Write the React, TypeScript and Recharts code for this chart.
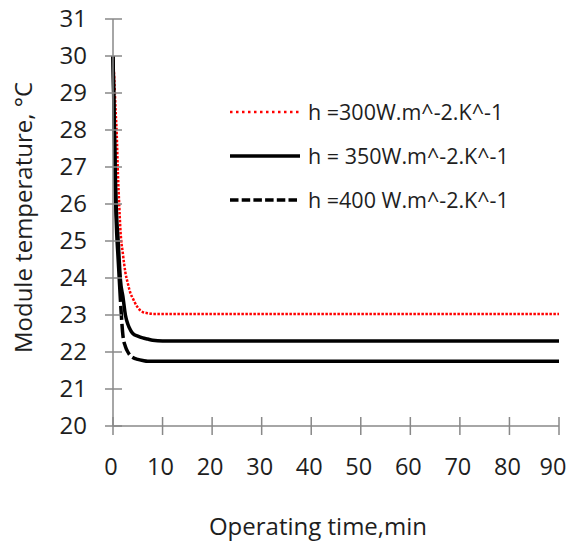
import React from 'react';
import { LineChart, Line, XAxis, YAxis, Legend, Label } from 'recharts';

// operating time (min) and module temperature (°C) for each heat transfer coefficient
const timeMin = [0, 0.25, 0.5, 0.75, 1, 1.25, 1.5, 2, 2.5, 3, 3.5, 4, 5, 6, 7, 8, 10, 20, 30, 40, 50, 60, 70, 80, 90];
const h300 = [30, 29.4, 28.6, 27.9, 26.8, 26.0, 25.3, 24.65, 24.15, 23.85, 23.6, 23.45, 23.2, 23.08, 23.05, 23.03, 23.03, 23.03, 23.03, 23.03, 23.03, 23.03, 23.03, 23.03, 23.03];
const h350 = [30, 28.3, 26.6, 25.6, 25.1, 24.5, 23.95, 23.5, 23.0, 22.75, 22.6, 22.5, 22.43, 22.38, 22.35, 22.32, 22.3, 22.3, 22.3, 22.3, 22.3, 22.3, 22.3, 22.3, 22.3];
const h400 = [30, 28.0, 26.2, 25.2, 24.6, 24.0, 23.4, 22.45, 22.15, 22.0, 21.9, 21.85, 21.8, 21.77, 21.75, 21.75, 21.75, 21.75, 21.75, 21.75, 21.75, 21.75, 21.75, 21.75, 21.75];

const xTicks = [0, 10, 20, 30, 40, 50, 60, 70, 80, 90];
const yTicks = [20, 21, 22, 23, 24, 25, 26, 27, 28, 29, 30, 31];

const seriesLabels = ['h =300W.m^-2.K^-1', 'h = 350W.m^-2.K^-1', 'h =400 W.m^-2.K^-1'];

const data = timeMin.map((t, i) => ({ t, h300: h300[i], h350: h350[i], h400: h400[i] }));

const font = '"Open Sans", sans-serif';
const axisGrey = '#888';
const textColor = '#1e1e1e';
const W = 567;
const H = 542;

const XTick = (props: any) => {
  const { x, y, payload } = props;
  // keep the last label inside the drawing area
  const tx = Math.min(x - 2, W - 14);
  return (
    <g>
      <line x1={x} x2={x} y1={y - 9} y2={y + 9} stroke={axisGrey} strokeWidth={1.5} />
      <text x={tx} y={y + 41} dy="0.35em" textAnchor="middle" fontSize={23.5} fontFamily={font} fill={textColor}>
        {payload.value}
      </text>
    </g>
  );
};

const YTick = (props: any) => {
  const { x, y, payload } = props;
  return (
    <g>
      <line x1={x - 8} x2={x + 9} y1={y} y2={y} stroke={axisGrey} strokeWidth={1.5} />
      <text x={x - 26} y={y} dy="0.35em" textAnchor="end" fontSize={24} fontFamily={font} fill={textColor}>
        {payload.value}
      </text>
    </g>
  );
};

const legendRows = [
  { label: seriesLabels[0], stroke: '#ff0000', width: 2.5, dash: '2.5 3.5' },
  { label: seriesLabels[1], stroke: '#000', width: 3.5, dash: undefined },
  { label: seriesLabels[2], stroke: '#000', width: 3.5, dash: '8.5 3.2' },
];

const LegendBox = () => (
  <svg width={330} height={136}>
    {legendRows.map((row, i) => (
      <g key={row.label} transform={`translate(0, ${22 + i * 44})`}>
        <line x1={7} x2={77} y1={0} y2={0} stroke={row.stroke} strokeWidth={row.width} strokeDasharray={row.dash} />
        <text x={85} y={0} dy="0.35em" fontSize={21.5} fontFamily={font} fill={textColor}>
          {row.label}
        </text>
      </g>
    ))}
  </svg>
);

export default function App() {
  return (
    <div style={{ marginTop: -8, marginLeft: -8, width: W, height: H }}>
      <LineChart width={W} height={H} data={data} margin={{ top: 19, right: 8, bottom: 0, left: 0 }}>
        <XAxis
          type="number"
          dataKey="t"
          domain={[0, 90]}
          ticks={xTicks}
          interval={0}
          height={116}
          tickSize={0}
          tickMargin={0}
          tickLine={false}
          tick={<XTick />}
          axisLine={{ stroke: axisGrey, strokeWidth: 1.5 }}
        >
          <Label
            content={(p: any) => {
              const vb = p.viewBox;
              return (
                <text x={vb.x + vb.width / 2 - 18} y={vb.y + 101} dy="0.35em" textAnchor="middle" fontSize={24} fontFamily={font} fill={textColor}>
                  Operating time,min
                </text>
              );
            }}
          />
        </XAxis>
        <YAxis
          type="number"
          domain={[20, 31]}
          ticks={yTicks}
          interval={0}
          width={113}
          tickSize={0}
          tickMargin={0}
          tickLine={false}
          tick={<YTick />}
          axisLine={{ stroke: axisGrey, strokeWidth: 1.5 }}
        >
          <Label
            content={(p: any) => {
              const vb = p.viewBox;
              const cx = 24;
              const cy = vb.y + vb.height / 2 - 5;
              return (
                <text x={cx} y={cy} dy="0.35em" textAnchor="middle" transform={`rotate(-90, ${cx}, ${cy})`} fontSize={24} fontFamily={font} fill={textColor}>
                  Module temperature, °C
                </text>
              );
            }}
          />
        </YAxis>
        <Legend
          layout="vertical"
          align="center"
          verticalAlign="middle"
          width={330}
          content={<LegendBox />}
          wrapperStyle={{ position: 'absolute', top: 90, left: 223, width: 330, height: 136 }}
        />
        <Line type="monotone" dataKey="h300" name={seriesLabels[0]} stroke="#ff0000" strokeWidth={2.5} strokeDasharray="2.5 1.5" dot={false} activeDot={false} isAnimationActive={false} />
        <Line type="monotone" dataKey="h350" name={seriesLabels[1]} stroke="#000" strokeWidth={3.5} dot={false} activeDot={false} isAnimationActive={false} />
        <Line type="monotone" dataKey="h400" name={seriesLabels[2]} stroke="#000" strokeWidth={3.5} strokeDasharray="246 4 14 4 14 4 14 4 3000" dot={false} activeDot={false} isAnimationActive={false} />
      </LineChart>
    </div>
  );
}
